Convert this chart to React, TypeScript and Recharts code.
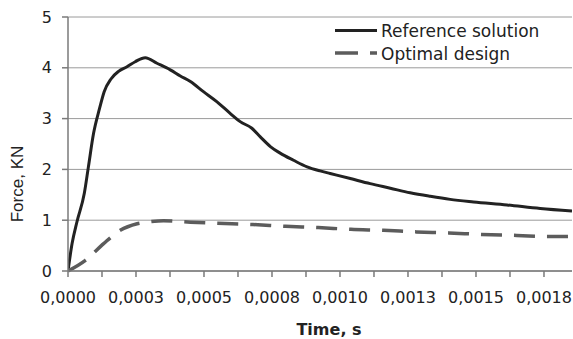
import { CartesianGrid, Label, Line, LineChart, XAxis, YAxis } from "recharts";

// time in seconds, force in kN
const refTime = [
  0, 0.000015, 0.000033, 0.00006, 0.000075, 0.000094, 0.000116, 0.000133, 0.000158,
  0.000186, 0.000217, 0.000247, 0.000284, 0.000327, 0.000376, 0.000413, 0.00045,
  0.000498, 0.000548, 0.000597, 0.000633, 0.000676, 0.000707, 0.000744, 0.00078,
  0.000829, 0.000879, 0.000927, 0.000964, 0.001038, 0.001111, 0.001185, 0.001258,
  0.001332, 0.001405, 0.001491, 0.001614, 0.001736, 0.001853,
];
const refForce = [
  0, 0.54, 0.97, 1.53, 2.05, 2.71, 3.2, 3.53, 3.78, 3.93, 4.02, 4.12, 4.2, 4.09, 3.96,
  3.84, 3.73, 3.53, 3.33, 3.1, 2.94, 2.81, 2.64, 2.45, 2.32, 2.18, 2.05, 1.97, 1.92,
  1.82, 1.72, 1.63, 1.54, 1.47, 1.41, 1.36, 1.3, 1.23, 1.18,
];
const optTime = [
  0, 0.000064, 0.000131, 0.000192, 0.000254, 0.000302, 0.000351, 0.00045, 0.00055,
  0.00068, 0.0008, 0.00092, 0.00104, 0.00116, 0.00128, 0.0014, 0.00152, 0.00165,
  0.00177, 0.001853,
];
const optForce = [
  0, 0.21, 0.54, 0.8, 0.93, 0.97, 0.99, 0.96, 0.94, 0.915, 0.88, 0.855, 0.82, 0.8,
  0.77, 0.75, 0.72, 0.7, 0.68, 0.68,
];

const xTicks = [
  0, 0.000125, 0.00025, 0.000375, 0.0005, 0.000625, 0.00075, 0.000875, 0.001,
  0.001125, 0.00125, 0.001375, 0.0015, 0.001625, 0.00175,
];
const xTickLabels = ["0,0000", "0,0003", "0,0005", "0,0008", "0,0010", "0,0013", "0,0015", "0,0018"];
const yTicks = [0, 1, 2, 3, 4, 5];

const refData = refTime.map((t, i) => ({ t, f: refForce[i] }));
const optData = optTime.map((t, i) => ({ t, f: optForce[i] }));

const FONT = "'DejaVu Sans', sans-serif";
const TEXT = "#222";

// legend drawn by hand so it doesn't eat space from the plot
function ChartLegend() {
  return (
    <svg width={240} height={50} style={{ position: "absolute", left: 330, top: 18 }}>
      <line x1={5} y1={12.5} x2={47} y2={12.5} stroke="#222" strokeWidth={3} />
      <text x={51} y={19} fontFamily={FONT} fontSize={17} fill={TEXT}>
        Reference solution
      </text>
      <line x1={5} y1={35} x2={47} y2={35} stroke="#5c5c5c" strokeWidth={3.5} strokeDasharray="23 12" />
      <text x={51} y={41.5} fontFamily={FONT} fontSize={17} fill={TEXT}>
        Optimal design
      </text>
    </svg>
  );
}

export default function App() {
  return (
    <div style={{ position: "absolute", left: 0, top: 0, width: 573, height: 339, background: "#fff" }}>
      <LineChart width={573} height={339} margin={{ top: 17, right: 1, left: 0, bottom: 0 }}>
        <CartesianGrid vertical={false} stroke="#9a9a9a" strokeWidth={1} />
        <XAxis
          type="number"
          dataKey="t"
          domain={[0, 0.001853]}
          ticks={xTicks}
          interval={0}
          allowDataOverflow
          height={68}
          stroke="#7a7a7a"
          strokeWidth={1.5}
          tickSize={6}
          tickMargin={15}
          tick={{ fill: TEXT, fontSize: 16, fontFamily: FONT }}
          tickFormatter={(v: number, i: number) => (i % 2 === 0 ? xTickLabels[i / 2] : "")}
        >
          <Label
            content={() => (
              <text x={329} y={335} textAnchor="middle" fontFamily={FONT} fontSize={16} fontWeight="bold" fill={TEXT}>
                Time, s
              </text>
            )}
          />
        </XAxis>
        <YAxis
          type="number"
          domain={[0, 5]}
          ticks={yTicks}
          width={68}
          stroke="#7a7a7a"
          strokeWidth={1.5}
          tickSize={6}
          tickMargin={10}
          tick={{ fill: TEXT, fontSize: 16, fontFamily: FONT }}
        >
          <Label
            content={() => (
              <text
                x={0}
                y={0}
                transform="translate(23,184) rotate(-90)"
                textAnchor="middle"
                fontFamily="'Liberation Sans', Arial, sans-serif"
                fontSize={17}
                fill={TEXT}
              >
                Force, KN
              </text>
            )}
          />
        </YAxis>
        <Line
          data={refData}
          dataKey="f"
          name="Reference solution"
          type="monotone"
          stroke="#222"
          strokeWidth={3}
          dot={false}
          isAnimationActive={false}
        />
        <Line
          data={optData}
          dataKey="f"
          name="Optimal design"
          type="monotone"
          stroke="#5c5c5c"
          strokeWidth={3.5}
          strokeDasharray="21 12"
          dot={false}
          isAnimationActive={false}
        />
      </LineChart>
      <ChartLegend />
    </div>
  );
}
